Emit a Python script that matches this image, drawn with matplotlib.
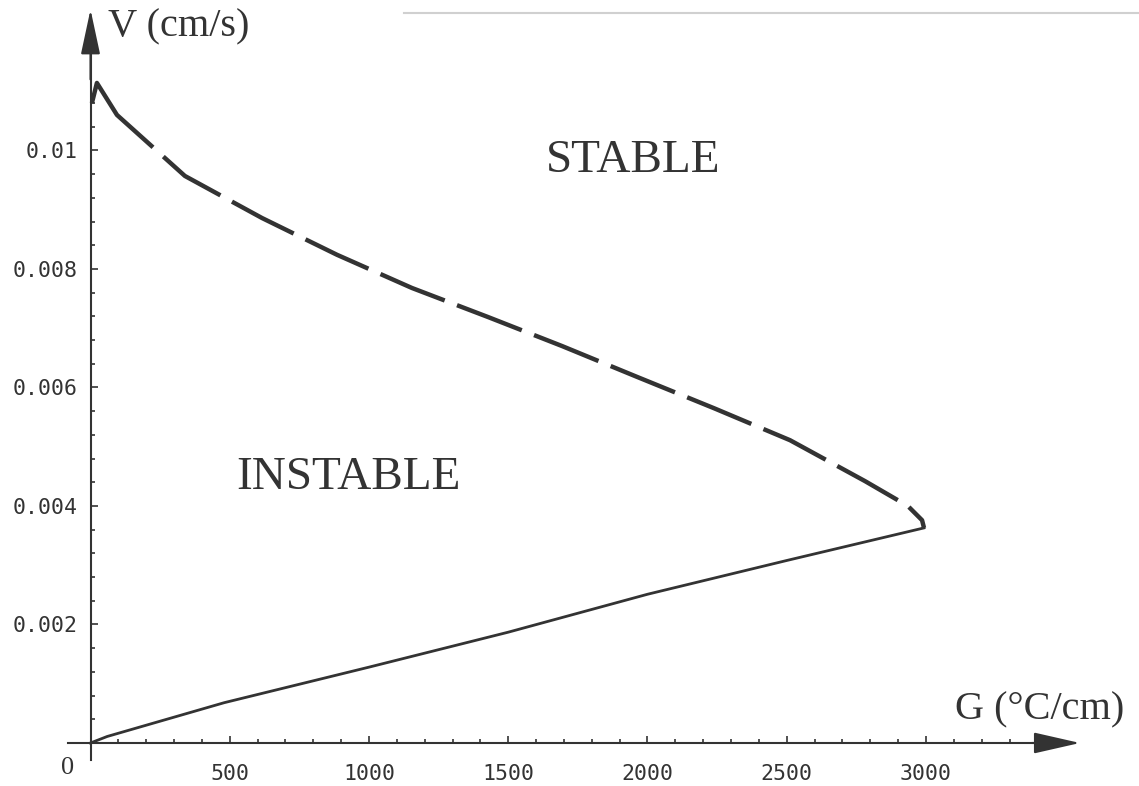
import numpy as np
import matplotlib
matplotlib.use("Agg")
import matplotlib.pyplot as plt
from matplotlib.ticker import FixedLocator, FixedFormatter
from matplotlib.lines import Line2D

plt.rcParams['lines.scale_dashes'] = False

# upper branch (stable / unstable boundary)
g_upper = [5, 23, 95, 339, 616, 885, 1154, 1427, 1693, 1962, 2239, 2512, 2781, 2935, 2986, 2993]
v_upper = [0.0108, 0.01114, 0.01060, 0.00957, 0.00886, 0.00824, 0.00768, 0.00719, 0.00670,
           0.00618, 0.00565, 0.00511, 0.00442, 0.00400, 0.00376, 0.00363]

# lower branch
g_lower = [0, 60, 480, 1000, 1500, 2000, 2500, 2993]
v_lower = [0, 0.00011, 0.00068, 0.00128, 0.00187, 0.00251, 0.00308, 0.00363]

x_major = [500, 1000, 1500, 2000, 2500, 3000]
x_labels = ['500', '1000', '1500', '2000', '2500', '3000']
y_major = [0.002, 0.004, 0.006, 0.008, 0.01]
y_labels = ['0.002', '0.004', '0.006', '0.008', '0.01']

ink = '#333333'
serif = 'Liberation Serif'
mono = 'DejaVu Sans Mono'

fig = plt.figure(figsize=(11.39, 7.86), dpi=100)
ax = fig.add_axes([0, 0, 1, 1])
ax.set_xlim(-325, 3765)
ax.set_ylim(-0.000726, 0.01254)
ax.patch.set_alpha(0)

# broken look of the scanned upper curve: a longer first piece, then regular breaks
dash_seq = [77, 10] + [50, 9.5] * 16
ax.plot(g_upper, v_upper, color=ink, lw=3.2, linestyle=(0, dash_seq),
        dash_capstyle='butt', solid_joinstyle='round')
ax.plot(g_lower, v_lower, color=ink, lw=2.0)

# axes through the origin
for s in ['top', 'right']:
    ax.spines[s].set_visible(False)
ax.spines['left'].set_position(('data', 0))
ax.spines['bottom'].set_position(('data', 0))
ax.spines['left'].set_bounds(-0.00029, 0.0120)
ax.spines['bottom'].set_bounds(-81, 3500)
for s in ['left', 'bottom']:
    ax.spines[s].set_color(ink)
    ax.spines[s].set_linewidth(1.5)

ax.annotate('', xy=(3553, 0), xytext=(3380, 0),
            arrowprops=dict(arrowstyle='-|>,head_length=1.45,head_width=0.33',
                            mutation_scale=20, color=ink, lw=1.5, shrinkA=0, shrinkB=0))
ax.annotate('', xy=(0, 0.01238), xytext=(0, 0.0112),
            arrowprops=dict(arrowstyle='-|>,head_length=1.4,head_width=0.3',
                            mutation_scale=20, color=ink, lw=1.5, shrinkA=0, shrinkB=0))

ax.xaxis.set_major_locator(FixedLocator(x_major))
ax.xaxis.set_major_formatter(FixedFormatter(x_labels))
ax.xaxis.set_minor_locator(FixedLocator(np.arange(100, 3450, 100)))
ax.yaxis.set_major_locator(FixedLocator(y_major))
ax.yaxis.set_major_formatter(FixedFormatter(y_labels))
ax.yaxis.set_minor_locator(FixedLocator(np.arange(0.0004, 0.0110, 0.0004)))

ax.tick_params(axis='x', which='both', direction='in', colors=ink, pad=15,
               labelsize=15.5, labelfontfamily=mono)
ax.tick_params(axis='y', which='both', direction='in', colors=ink, pad=9,
               labelsize=15.5, labelfontfamily=mono)
ax.tick_params(which='major', length=5, width=1.2)
ax.tick_params(which='minor', length=3, width=1.2)

# labels
ax.text(63, 0.01208, 'V (cm/s)', fontsize=29, family=serif, color=ink, ha='left', va='center')
ax.text(3106, 0.00055, 'G (°C/cm)', fontsize=29, family=serif, color=ink, ha='left', va='center')
ax.text(-81, -0.00042, '0', fontsize=19, family=serif, color=ink, ha='center', va='center')
ax.text(1950, 0.00982, 'STABLE', fontsize=34, family=serif, color=ink, ha='center', va='center')
ax.text(926, 0.00447, 'INSTABLE', fontsize=34, family=serif, color=ink, ha='center', va='center')

# faint scan edge at the top
fig.add_artist(Line2D([0.355, 1.0], [0.984, 0.984], color='#d0d0d0', lw=1.5))

fig.savefig('out.png', dpi=100)
